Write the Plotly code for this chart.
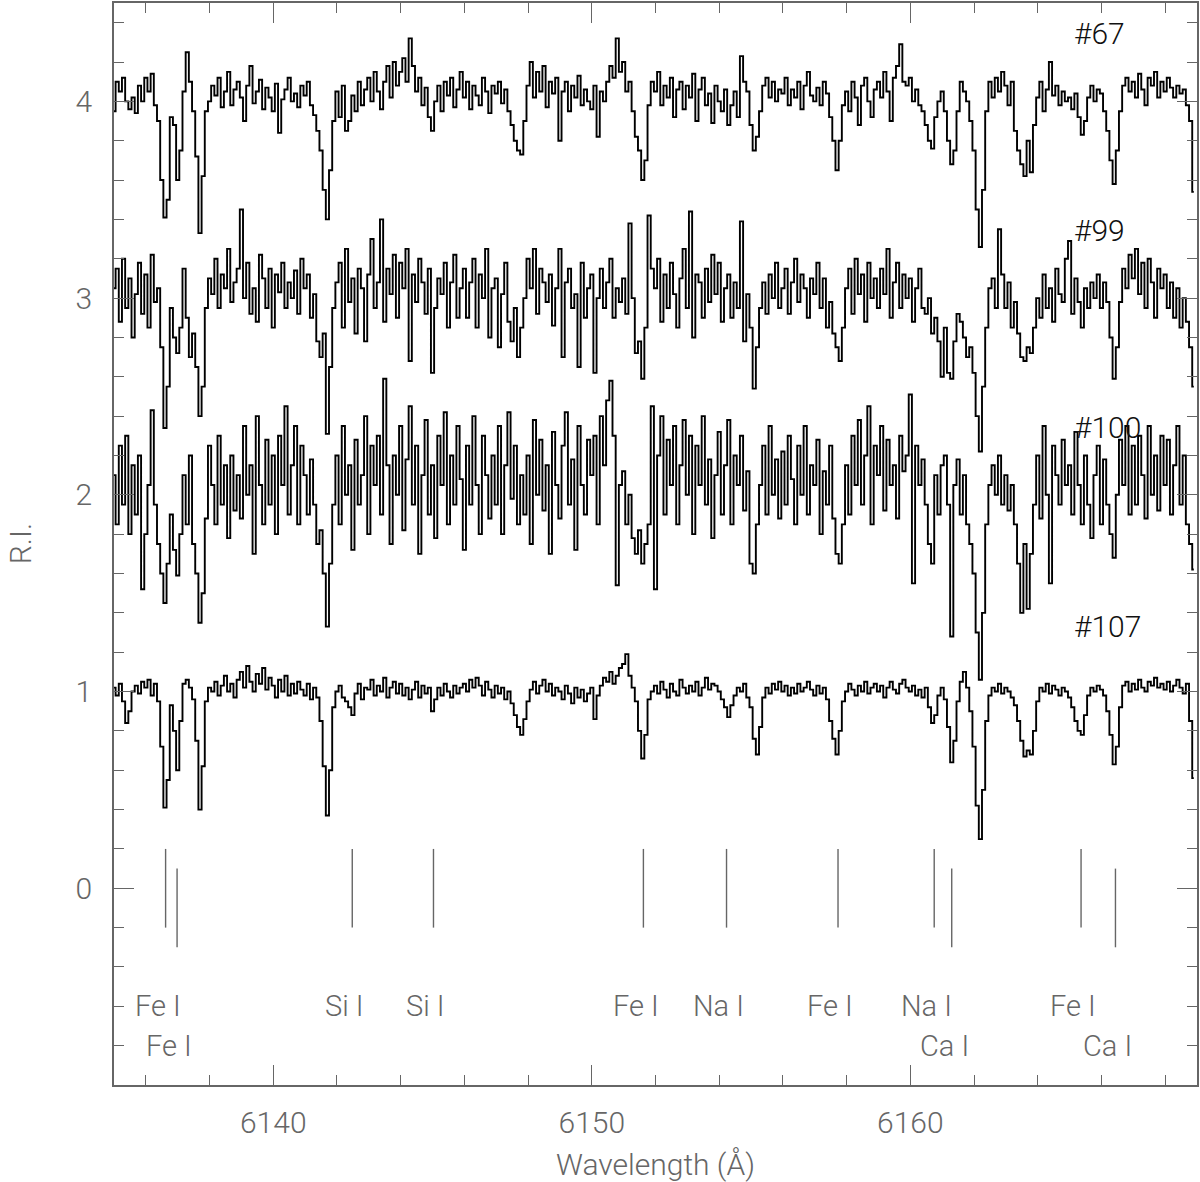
import numpy as np
import plotly.graph_objects as go

# ---- spectra: relative intensity (already offset) sampled every 0.1 A from 6135.0 A ----
wave_start = 6135.0
wave_step = 0.1

s67 = [
 3.95, 4.10, 4.05, 4.12, 4.00, 3.96, 4.02, 3.94, 4.08, 4.00,
 4.12, 4.05, 4.14, 3.98, 3.90, 3.60, 3.41, 3.50, 3.92, 3.88,
 3.60, 3.75, 4.05, 4.25, 4.10, 3.95, 3.72, 3.33, 3.62, 3.95,
 4.00, 4.08, 4.03, 4.12, 3.97, 4.05, 4.15, 3.98, 4.06, 4.10,
 4.02, 3.90, 4.08, 4.18, 3.99, 4.05, 4.11, 3.96, 4.07, 4.02,
 3.95, 4.09, 3.84, 4.01, 4.06, 4.12, 4.00, 4.04, 3.97, 4.08,
 4.03, 4.10, 3.98, 3.93, 3.85, 3.75, 3.55, 3.40, 3.65, 3.90,
 4.05, 3.92, 4.08, 3.85, 3.90, 4.03, 3.95, 4.10, 3.98, 4.06,
 4.12, 4.00, 4.15, 4.05, 3.96, 4.10, 4.18, 4.02, 4.20, 4.08,
 4.15, 4.22, 4.10, 4.32, 4.18, 4.05, 4.12, 3.98, 4.07, 3.92,
 3.85, 4.00, 4.08, 3.95, 4.10, 4.03, 4.12, 3.97, 4.06, 4.15,
 4.02, 4.10, 3.96, 4.08, 4.03, 3.98, 4.12, 4.05, 3.94, 4.08,
 4.04, 4.10, 3.99, 4.06, 3.95, 3.88, 3.80, 3.75, 3.73, 3.90,
 4.08, 4.20, 4.02, 4.15, 4.05, 4.18, 3.97, 4.10, 4.04, 4.12,
 3.80, 4.05, 4.10, 3.95, 4.08, 4.02, 4.13, 3.98, 4.06, 4.00,
 3.96, 4.08, 3.82, 4.05, 4.00, 4.10, 4.18, 4.12, 4.32, 4.15,
 4.20, 4.05, 4.10, 3.95, 3.82, 3.75, 3.60, 3.70, 3.98, 4.10,
 4.05, 4.15, 3.98, 4.08, 4.02, 4.12, 3.92, 4.06, 4.10, 3.96,
 4.08, 4.02, 4.14, 3.90, 4.06, 4.12, 3.98, 4.04, 3.89, 4.08,
 4.00, 3.95, 4.06, 3.88, 3.98, 4.05, 3.92, 4.23, 4.10, 4.05,
 3.88, 3.75, 3.82, 3.95, 4.08, 4.12, 4.02, 4.10, 4.00, 4.06,
 4.04, 4.12, 3.98, 4.06, 4.02, 4.10, 3.96, 4.08, 4.15, 4.03,
 4.00, 4.07, 3.98, 4.10, 4.04, 3.92, 3.80, 3.65, 3.80, 3.98,
 4.05, 3.95, 4.10, 4.02, 3.88, 4.08, 4.12, 4.00, 3.92, 4.06,
 4.10, 4.02, 4.15, 4.05, 3.90, 4.12, 4.18, 4.29, 4.10, 4.08,
 4.12, 4.00, 4.06, 3.98, 3.95, 3.88, 3.80, 3.76, 3.92, 4.00,
 4.05, 3.95, 3.80, 3.68, 3.75, 3.95, 4.10, 4.05, 4.00, 3.90,
 3.75, 3.45, 3.26, 3.55, 3.95, 4.10, 4.02, 4.12, 4.05, 4.15,
 4.08, 3.98, 4.10, 3.85, 3.75, 3.68, 3.62, 3.80, 3.64, 3.88,
 4.02, 4.10, 3.95, 4.06, 4.20, 4.03, 4.08, 3.98, 4.05, 4.00,
 4.02, 3.96, 4.04, 3.92, 3.83, 3.90, 4.02, 4.08, 4.00, 4.06,
 4.04, 3.95, 3.85, 3.70, 3.58, 3.75, 3.95, 4.08, 4.12, 4.05,
 4.10, 4.02, 4.14, 4.06, 3.98, 4.12, 4.08, 4.15, 4.02, 4.10,
 4.05, 4.12, 4.07, 4.02, 4.08, 4.04, 4.06, 3.98, 3.90, 3.54,
]

s99 = [
 3.05, 3.15, 2.88, 3.20, 2.95, 3.10, 2.80, 3.02, 3.18, 2.92,
 3.12, 2.85, 3.22, 2.98, 3.05, 2.75, 2.34, 2.55, 2.95, 2.80,
 2.72, 2.85, 3.15, 2.90, 2.70, 2.82, 2.65, 2.40, 2.55, 2.95,
 3.10, 3.02, 3.20, 2.95, 3.12, 3.05, 3.25, 2.98, 3.08, 3.15,
 3.45, 3.00, 3.18, 2.92, 3.05, 2.88, 3.22, 3.10, 2.95, 3.15,
 2.85, 3.12, 3.03, 3.18, 2.95, 3.08, 3.00, 3.14, 2.92, 3.20,
 3.05, 3.12, 2.90, 3.02, 2.78, 2.70, 2.82, 2.31, 2.65, 2.95,
 3.08, 3.18, 2.85, 3.25, 2.98, 3.10, 2.82, 3.15, 3.05, 2.78,
 3.12, 3.30, 2.95, 3.08, 3.40, 2.88, 3.15, 3.02, 3.22, 2.90,
 3.18, 3.05, 3.25, 2.68, 3.12, 2.98, 3.20, 3.08, 2.92, 3.15,
 2.62, 2.95, 3.10, 3.02, 3.18, 2.85, 3.08, 3.22, 2.90, 3.05,
 3.15, 2.90, 3.08, 3.20, 2.85, 3.12, 3.00, 3.25, 2.80, 3.05,
 3.10, 2.75, 3.02, 3.18, 2.88, 2.78, 2.95, 2.70, 2.85, 3.00,
 3.20, 3.05, 3.25, 2.92, 3.15, 3.08, 2.98, 3.12, 2.86, 3.05,
 3.25, 2.70, 3.08, 3.15, 2.95, 3.02, 2.65, 3.18, 2.90, 3.05,
 3.12, 2.62, 3.00, 3.15, 2.95, 3.08, 3.20, 2.90, 3.05, 2.98,
 3.10, 2.92, 3.38, 3.00, 2.72, 2.78, 2.59, 2.85, 3.42, 3.15,
 3.05, 3.20, 2.88, 3.12, 2.95, 3.18, 3.02, 2.85, 3.10, 3.25,
 2.95, 3.44, 2.80, 3.12, 3.08, 2.90, 3.15, 2.98, 3.22, 3.02,
 3.18, 2.88, 3.05, 3.12, 2.90, 3.08, 2.95, 3.39, 2.78, 3.02,
 2.85, 2.54, 2.75, 2.95, 3.08, 2.92, 3.12, 3.00, 3.18, 2.95,
 3.05, 3.15, 2.92, 3.08, 3.20, 2.98, 3.12, 3.05, 2.90, 3.10,
 3.02, 3.18, 2.95, 3.10, 2.85, 2.98, 2.82, 2.75, 2.68, 2.85,
 3.05, 3.15, 2.92, 3.20, 3.02, 3.12, 2.88, 3.18, 3.00, 3.10,
 2.95, 3.15, 3.02, 3.25, 2.90, 3.08, 3.18, 2.95, 3.12, 3.00,
 3.10, 2.88, 3.05, 3.15, 2.95, 2.92, 3.00, 2.82, 2.90, 2.78,
 2.60, 2.85, 2.62, 2.59, 2.78, 2.92, 2.88, 2.80, 2.70, 2.75,
 2.62, 2.40, 2.22, 2.55, 2.85, 3.05, 3.10, 2.95, 3.35, 3.12,
 2.95, 3.08, 2.85, 2.98, 2.82, 2.70, 2.68, 2.75, 2.72, 2.85,
 3.00, 2.90, 3.12, 2.95, 3.05, 2.88, 3.15, 3.02, 2.98, 3.20,
 3.29, 2.92, 3.10, 2.98, 2.85, 3.05, 2.95, 3.08, 3.00, 3.12,
 2.95, 3.08, 2.98, 2.80, 2.59, 2.75, 2.98, 3.15, 3.05, 3.22,
 3.10, 3.25, 3.02, 3.18, 2.95, 3.20, 3.08, 2.90, 3.15, 3.05,
 3.12, 2.95, 3.08, 2.90, 3.05, 2.85, 3.00, 2.88, 2.75, 2.55,
]

s100 = [
 2.10, 1.85, 2.25, 1.95, 2.30, 1.80, 2.15, 1.90, 2.20, 1.52,
 1.80, 2.05, 2.43, 1.95, 1.75, 1.60, 1.45, 1.65, 1.90, 1.72,
 1.59, 1.80, 2.10, 1.85, 2.20, 1.75, 1.60, 1.35, 1.50, 1.88,
 2.25, 2.05, 1.85, 2.30, 1.95, 2.15, 1.78, 2.20, 1.92, 2.10,
 1.88, 2.35, 2.00, 2.15, 1.70, 2.40, 2.05, 1.85, 2.28, 1.95,
 2.20, 1.80, 2.30, 2.05, 2.45, 1.90, 2.15, 2.35, 1.85, 2.25,
 2.10, 1.90, 2.18, 1.95, 1.75, 1.82, 1.60, 1.33, 1.65, 1.95,
 2.20, 1.85, 2.35, 2.00, 2.15, 1.72, 2.28, 1.95, 2.10, 2.40,
 1.80, 2.25, 2.05, 2.30, 1.90, 2.59, 2.15, 1.75, 2.20, 2.00,
 2.35, 1.82, 2.18, 2.45, 1.95, 2.25, 1.70, 2.10, 2.38, 1.90,
 2.15, 1.78, 2.30, 2.05, 2.42, 1.85, 2.20, 1.95, 2.35, 2.08,
 1.72, 2.25, 1.95, 2.40, 2.05, 1.80, 2.30, 2.10, 1.88, 2.20,
 1.95, 2.35, 1.80, 2.15, 2.42, 1.98, 2.25, 1.85, 2.10, 1.90,
 2.20, 1.75, 2.38, 2.00, 2.28, 1.92, 2.15, 1.70, 2.32, 2.05,
 1.88, 2.25, 2.42, 1.95, 2.18, 1.72, 2.35, 2.05, 1.90, 2.28,
 2.10, 2.30, 1.85, 2.40, 2.15, 2.48, 2.58, 2.30, 1.54, 2.05,
 2.12, 1.85, 2.00, 1.78, 1.70, 1.82, 1.65, 1.75, 1.85, 2.45,
 1.52, 2.20, 2.40, 1.90, 2.28, 2.05, 2.35, 1.85, 2.15, 2.38,
 2.00, 2.30, 1.80, 2.25, 2.05, 2.40, 1.95, 2.18, 1.78, 2.10,
 2.32, 1.90, 2.15, 2.38, 1.85, 2.20, 2.05, 2.30, 1.92, 2.12,
 1.65, 1.60, 1.85, 2.05, 2.25, 1.90, 2.35, 2.00, 2.18, 1.88,
 2.22, 1.95, 2.30, 2.08, 1.85, 2.25, 2.00, 2.35, 1.90, 2.15,
 2.05, 2.28, 1.80, 2.12, 1.95, 2.25, 1.88, 1.70, 1.65, 1.85,
 2.15, 1.90, 2.30, 2.05, 2.38, 1.95, 2.20, 2.45, 1.85, 2.25,
 2.10, 2.35, 1.92, 2.28, 2.05, 2.15, 1.88, 2.30, 2.12, 2.20,
 2.51, 1.55, 2.25, 2.05, 2.18, 1.95, 1.75, 1.65, 2.10, 1.90,
 2.15, 2.20, 1.95, 1.28, 2.05, 2.18, 1.90, 2.10, 1.85, 1.75,
 1.60, 1.30, 1.06, 1.40, 1.85, 2.05, 2.15, 2.00, 2.20, 1.95,
 2.10, 1.92, 2.05, 1.85, 1.65, 1.40, 1.75, 1.42, 1.70, 1.95,
 2.20, 1.88, 2.35, 2.00, 1.55, 2.25, 2.10, 1.95, 2.28, 2.05,
 2.15, 1.90, 2.32, 2.05, 1.85, 2.20, 1.95, 1.78, 2.10, 2.25,
 1.85, 2.18, 1.95, 1.80, 1.68, 2.00, 2.28, 2.05, 2.35, 1.90,
 2.25, 1.95, 2.30, 2.10, 1.88, 2.35, 2.00, 2.20, 1.92, 2.30,
 2.05, 2.28, 1.90, 2.15, 2.35, 1.95, 2.20, 1.85, 1.75, 1.62,
]

s107 = [
 1.02, 0.98, 1.04, 0.95, 0.84, 0.90, 1.00, 1.03, 0.99, 1.05,
 1.02, 1.06, 0.98, 1.04, 0.95, 0.72, 0.41, 0.55, 0.93, 0.80,
 0.60, 0.85, 1.04, 1.06, 1.02, 0.96, 0.75, 0.40, 0.62, 0.95,
 1.02, 1.00, 1.05, 0.98, 1.03, 1.08, 1.00, 1.04, 0.97, 1.06,
 1.10, 1.02, 1.13, 1.05, 1.00, 1.09, 1.04, 1.12, 1.01, 1.07,
 1.03, 0.97, 1.06, 1.00, 1.08, 0.98, 1.04, 0.99, 1.05, 1.01,
 0.98, 1.04, 0.96, 1.02, 0.97, 0.85, 0.62, 0.37, 0.60, 0.92,
 1.00, 1.03, 0.97, 0.95, 0.92, 0.88, 0.99, 1.04, 0.96, 1.02,
 1.01, 1.06, 0.98, 1.03, 1.00, 1.07, 0.97, 1.02, 1.05, 0.99,
 1.04, 0.98, 1.02, 0.96, 1.01, 1.05, 0.97, 1.03, 0.99, 1.02,
 0.90, 0.96, 1.02, 0.98, 1.04, 1.00, 0.97, 1.03, 0.99, 1.02,
 1.04, 1.00, 1.06, 1.02, 1.07, 1.03, 0.98, 1.05, 1.01, 0.97,
 1.03, 0.99, 1.02, 0.96, 1.00, 0.94, 0.88, 0.82, 0.78, 0.86,
 0.95, 1.01, 1.05, 0.99, 1.03, 1.06, 1.00, 1.04, 0.98, 1.02,
 1.00, 0.96, 1.03, 0.99, 0.94, 1.02, 0.97, 1.01, 0.95, 0.99,
 1.02, 0.86, 0.98, 1.03, 1.07, 1.05, 1.10, 1.04, 1.08, 1.12,
 1.14, 1.19, 1.08, 1.02, 0.95, 0.80, 0.66, 0.78, 0.96, 1.00,
 1.03, 0.99, 1.05, 1.01, 0.97, 1.04, 1.00, 0.98, 1.06, 1.02,
 0.99, 1.03, 1.00, 1.05, 0.98, 1.02, 1.07, 1.01, 1.04, 1.03,
 1.00, 0.96, 0.92, 0.87, 0.93, 0.98, 1.02, 1.00, 1.04, 0.97,
 0.92, 0.76, 0.68, 0.82, 0.97, 1.02, 0.99, 1.04, 1.01, 1.05,
 1.00, 1.03, 0.98, 1.02, 0.99, 1.04, 1.00, 1.02, 1.05, 1.01,
 0.98, 1.03, 0.99, 1.02, 0.96, 0.85, 0.76, 0.68, 0.80, 0.95,
 1.00, 1.04, 1.01, 0.98, 1.03, 1.00, 1.05, 0.99, 1.02, 1.04,
 1.00, 1.03, 0.97, 1.02, 1.05, 1.01, 0.99, 1.04, 1.06, 1.02,
 1.00, 1.03, 0.98, 1.01, 0.97, 1.02, 0.92, 0.84, 0.88, 0.98,
 1.02, 0.96, 0.82, 0.64, 0.75, 0.95, 1.05, 1.10, 1.02, 0.90,
 0.72, 0.42, 0.25, 0.50, 0.85, 0.98, 1.02, 1.00, 1.04, 0.99,
 1.02, 1.00, 0.97, 0.93, 0.85, 0.75, 0.67, 0.70, 0.68, 0.80,
 0.95, 1.02, 1.00, 1.04, 0.99, 1.03, 1.01, 0.98, 1.02, 1.00,
 0.97, 0.92, 0.85, 0.80, 0.78, 0.88, 0.98, 1.02, 1.00, 1.03,
 1.01, 0.98, 0.90, 0.78, 0.63, 0.72, 0.92, 1.03, 1.05, 1.00,
 1.04, 1.01, 1.06, 1.02, 1.00, 1.05, 1.03, 1.07, 1.02, 1.04,
 1.01, 1.05, 1.00, 1.03, 1.06, 1.02, 0.99, 1.04, 0.85, 0.56,
]

spectra_names = ["#67", "#99", "#100", "#107"]
spectra_levels = [4.345, 3.346, 2.341, 1.331]   # y of each star label

# ---- line identifications ----
line_waves = [6136.62, 6136.98, 6142.48, 6145.03, 6151.62, 6154.23,
              6157.73, 6160.75, 6161.30, 6165.36, 6166.44]
line_names = ["Fe I", "Fe I", "Si I", "Si I", "Fe I", "Na I",
              "Fe I", "Na I", "Ca I", "Fe I", "Ca I"]
line_row = [0, 1, 0, 0, 0, 0, 0, 0, 1, 0, 1]      # 0 = upper label row, 1 = lower
row_top = [0.2, 0.1]
row_bottom = [-0.2, -0.3]
row_label_y = [-0.60, -0.80]

FONT = "Roboto"
GRAY = "#666666"

fig = go.Figure()

for s in [s67, s99, s100, s107]:
    wave = wave_start + wave_step * np.arange(len(s))
    fig.add_trace(go.Scatter(x=wave, y=s, mode="lines", line_shape="hvh",
                             line=dict(color="black", width=1.9),
                             showlegend=False, hoverinfo="skip"))

mx, my = [], []
for w, r in zip(line_waves, line_row):
    mx += [w, w, None]
    my += [row_top[r], row_bottom[r], None]
fig.add_trace(go.Scatter(x=mx, y=my, mode="lines",
                         line=dict(color=GRAY, width=1.4),
                         showlegend=False, hoverinfo="skip"))

for w, n, r in zip(line_waves, line_names, line_row):
    fig.add_annotation(x=w - 0.24, y=row_label_y[r], text=n, showarrow=False,
                       xanchor="center", yanchor="middle",
                       font=dict(family=FONT, size=29, color=GRAY, weight=300))

for n, yv in zip(spectra_names, spectra_levels):
    fig.add_annotation(x=6165.06, y=yv, text=n, showarrow=False,
                       xanchor="left", yanchor="middle",
                       font=dict(family=FONT, size=30, color="#111111", weight=300))

fig.add_annotation(xref="paper", yref="paper", x=-0.0865, y=0.5, text="R.I.",
                   textangle=-90, showarrow=False, xanchor="center", yanchor="middle",
                   font=dict(family=FONT, size=30, color=GRAY, weight=300))
fig.add_annotation(xref="paper", yref="paper", x=0.5, y=-0.0738, text="Wavelength (Å)",
                   showarrow=False, xanchor="center", yanchor="middle",
                   font=dict(family=FONT, size=30, color=GRAY, weight=300))

axis_common = dict(showgrid=False, zeroline=False, showline=True, linecolor=GRAY,
                   linewidth=1.5, mirror="ticks", ticks="inside", ticklen=20,
                   tickwidth=1.3, tickcolor=GRAY,
                   tickfont=dict(family=FONT, size=30, color=GRAY, weight=300))

fig.update_xaxes(range=[6135, 6169], tick0=6140, dtick=10, ticklabelstandoff=10,
                 minor=dict(dtick=2, tick0=6136, ticks="inside", ticklen=10,
                            tickwidth=1.3, tickcolor=GRAY),
                 **axis_common)
fig.update_yaxes(range=[-1, 4.5], tickvals=[0, 1, 2, 3, 4], ticklabelstandoff=14,
                 minor=dict(dtick=0.2, tick0=0, ticks="inside", ticklen=10,
                            tickwidth=1.3, tickcolor=GRAY),
                 **axis_common)

fig.update_layout(width=1200, height=1182,
                  margin=dict(l=114, r=2, t=1, b=97),
                  paper_bgcolor="white", plot_bgcolor="white")

fig.write_html("out.html", config={"displayModeBar": False},
               post_script="document.body.style.margin='0';document.body.style.padding='0';")
